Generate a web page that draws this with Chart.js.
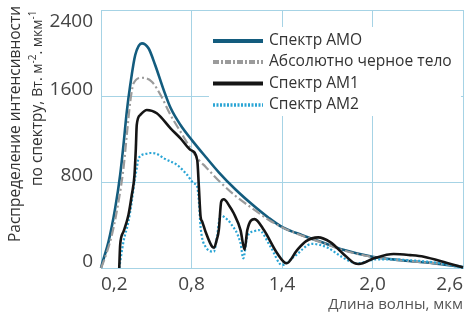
<!DOCTYPE html>
<html>
<head>
<meta charset="utf-8">
<script src="https://cdn.jsdelivr.net/npm/chart.js@4.4.1/dist/chart.umd.min.js"></script>
<style>
  html, body { margin: 0; padding: 0; background: #fff; }
</style>
</head>
<body>
<canvas id="chart" width="474" height="321"></canvas>
<script>
// Длины волн (мкм) и значения (Вт·м-2·мкм-1)
const amoWave = [0.2, 0.205, 0.25, 0.294, 0.327, 0.349, 0.371, 0.394, 0.427, 0.471, 0.515, 0.559, 0.617, 0.661, 0.727, 0.805, 0.893, 0.981, 1.092, 1.203, 1.313, 1.402, 1.534, 1.689, 1.8, 2.0, 2.2, 2.4, 2.6];
const amoValue = [0, 28, 245, 555, 865, 1144, 1454, 1702, 1981, 2090, 2044, 1888, 1650, 1490, 1330, 1185, 1035, 890, 730, 590, 465, 380, 305, 228, 172, 105, 70, 45, 10];

const bbWave = [0.2, 0.217, 0.272, 0.316, 0.349, 0.371, 0.394, 0.416, 0.471, 0.537, 0.595, 0.661, 0.727, 0.794, 0.849, 0.893, 0.981, 1.092, 1.203, 1.313, 1.402, 1.534, 1.689, 1.8, 2.0, 2.2, 2.4, 2.6];
const bbValue = [0, 59, 307, 617, 927, 1237, 1547, 1718, 1770, 1733, 1609, 1423, 1268, 1113, 1005, 942, 812, 670, 555, 447, 378, 300, 225, 168, 103, 70, 45, 15];

const am1Wave = [0.321, 0.327, 0.349, 0.382, 0.404, 0.422, 0.431, 0.437, 0.46, 0.504, 0.57, 0.661, 0.727, 0.794, 0.838, 0.849, 0.86, 0.871, 0.893, 0.937, 0.95, 0.965, 0.981, 0.997, 1.014, 1.05, 1.08, 1.125, 1.152, 1.17, 1.218, 1.28, 1.368, 1.43, 1.5, 1.56, 1.64, 1.72, 1.8, 1.88, 1.91, 2.01, 2.14, 2.25, 2.34, 2.5, 2.6];
const am1Value = [0, 214, 338, 493, 679, 865, 1113, 1330, 1423, 1470, 1439, 1299, 1206, 1098, 1005, 750, 480, 431, 338, 198, 190, 250, 353, 617, 639, 580, 509, 353, 170, 353, 455, 353, 137, 44, 167, 250, 285, 240, 140, 45, 37, 90, 130, 120, 105, 44, 5];

const am2Wave = [0.321, 0.349, 0.382, 0.404, 0.422, 0.437, 0.449, 0.493, 0.53, 0.57, 0.617, 0.705, 0.772, 0.815, 0.838, 0.85, 0.86, 0.893, 0.948, 0.97, 0.992, 1.02, 1.059, 1.125, 1.143, 1.17, 1.22, 1.246, 1.324, 1.40, 1.48, 1.6, 1.7, 1.8, 1.855, 1.899, 2.03, 2.23, 2.45, 2.6];
const am2Value = [0, 245, 431, 617, 803, 927, 1020, 1060, 1070, 1062, 1020, 958, 865, 788, 756, 600, 384, 198, 152, 300, 493, 470, 416, 230, 90, 291, 345, 353, 198, 28, 105, 225, 190, 100, 59, 44, 81, 74, 44, 0];

const seriesLabels = ['Спектр АМО', 'Абсолютно черное тело', 'Спектр АМ1', 'Спектр АМ2'];
const xTicks = [0.2, 0.8, 1.4, 2.0, 2.6];
const yTicks = [0, 800, 1600, 2400];

const FONT = '"Open Sans"';
const gridColor = '#a6d3e5';

const toPoints = (xs, ys) => xs.map((x, i) => ({ x: x, y: ys[i] }));

// Подпись оси Y в две строки, с верхними индексами
const yTitlePlugin = {
  id: 'yTitle',
  afterDraw(chart) {
    const ctx = chart.ctx;
    ctx.save();
    ctx.fillStyle = '#333';
    ctx.textBaseline = 'middle';
    ctx.textAlign = 'left';

    // строка 1
    ctx.save();
    ctx.translate(16, 242);
    ctx.rotate(-Math.PI / 2);
    ctx.font = '15.5px ' + FONT;
    ctx.fillText('Распределение интенсивности', 0, 0);
    ctx.restore();

    // строка 2
    const parts = [
      { t: 'по спектру, ', size: 15.5, dy: 0 },
      { t: 'Вт. м', size: 14, dy: 0 },
      { t: '-2', size: 10, dy: -5 },
      { t: '. мкм', size: 14, dy: 0 },
      { t: '-1', size: 10, dy: -5 }
    ];
    ctx.save();
    ctx.translate(38, 186);
    ctx.rotate(-Math.PI / 2);
    let x = 0;
    parts.forEach(p => {
      ctx.font = p.size + 'px ' + FONT;
      ctx.fillText(p.t, x, p.dy);
      x += ctx.measureText(p.t).width;
    });
    ctx.restore();
    ctx.restore();
  }
};

// Подписи делений оси Y (над линиями сетки)
const yLabelsPlugin = {
  id: 'yLabels',
  afterDraw(chart) {
    const { ctx, scales } = chart;
    ctx.save();
    ctx.font = '19px ' + FONT;
    ctx.fillStyle = '#444';
    ctx.textAlign = 'right';
    ctx.textBaseline = 'alphabetic';
    yTicks.forEach(v => {
      const py = scales.y.getPixelForValue(v);
      const by = py - 16 < 0 ? py + 17 : py - 1;
      ctx.fillText(String(v), 93, by);
    });
    ctx.restore();
  }
};

// Легенда в белой рамке внутри области графика
const legendPlugin = {
  id: 'boxLegend',
  afterDatasetsDraw(chart) {
    const ctx = chart.ctx;
    const rows = [41, 62, 83.5, 105];
    ctx.save();
    ctx.fillStyle = '#fff';
    ctx.fillRect(209, 27, 252, 89);
    chart.data.datasets.forEach((ds, i) => {
      ctx.beginPath();
      ctx.strokeStyle = ds.borderColor;
      ctx.lineWidth = ds.legendWidth;
      ctx.setLineDash(ds.legendDash || []);
      ctx.moveTo(213, rows[i]);
      ctx.lineTo(263, rows[i]);
      ctx.stroke();
      ctx.setLineDash([]);
      ctx.fillStyle = '#333';
      ctx.font = '15.6px ' + FONT;
      ctx.textBaseline = 'middle';
      ctx.textAlign = 'left';
      ctx.fillText(ds.label, 269, rows[i]);
    });
    ctx.restore();
  }
};

new Chart(document.getElementById('chart'), {
  type: 'line',
  data: {
    datasets: [
      {
        label: seriesLabels[0],
        data: toPoints(amoWave, amoValue),
        borderColor: '#135c7e',
        borderWidth: 2.6,
        order: 4,
        legendWidth: 4
      },
      {
        label: seriesLabels[1],
        data: toPoints(bbWave, bbValue),
        borderColor: '#9b9b9b',
        borderWidth: 2.2,
        borderDash: [9, 3, 2, 3],
        order: 3,
        legendWidth: 4,
        legendDash: [6, 2, 2, 2]
      },
      {
        label: seriesLabels[2],
        data: toPoints(am1Wave, am1Value),
        borderColor: '#151515',
        borderWidth: 2.6,
        order: 1,
        legendWidth: 4
      },
      {
        label: seriesLabels[3],
        data: toPoints(am2Wave, am2Value),
        borderColor: '#2aa5d5',
        borderWidth: 2.2,
        borderDash: [2, 2],
        order: 2,
        legendWidth: 3.5,
        legendDash: [2, 1.5]
      }
    ]
  },
  options: {
    responsive: false,
    animation: false,
    layout: { padding: { top: 10, right: 11, left: 0, bottom: 0 } },
    plugins: {
      legend: { display: false },
      tooltip: { enabled: false }
    },
    elements: {
      point: { radius: 0 },
      line: { cubicInterpolationMode: 'monotone', fill: false }
    },
    datasets: { line: { clip: false } },
    scales: {
      x: {
        type: 'linear',
        min: 0.2,
        max: 2.6,
        afterBuildTicks: s => { s.ticks = xTicks.map(v => ({ value: v })); },
        afterFit: s => { s.height = 53; },
        grid: { color: gridColor, lineWidth: 1, drawTicks: false },
        border: { color: gridColor },
        ticks: {
          align: 'inner',
          padding: 5,
          color: '#444',
          maxRotation: 0,
          autoSkip: false,
          font: { family: FONT, size: 19 },
          callback: v => v.toFixed(1).replace('.', ',')
        },
        title: {
          display: true,
          text: 'Длина волны, мкм',
          align: 'end',
          color: '#555',
          font: { family: FONT, size: 15 },
          padding: { top: 0, bottom: 7 }
        }
      },
      y: {
        min: 0,
        max: 2400,
        afterBuildTicks: s => { s.ticks = yTicks.map(v => ({ value: v })); },
        afterFit: s => { s.width = 101; },
        grid: { color: gridColor, lineWidth: 1, drawTicks: false },
        border: { color: gridColor },
        ticks: { display: false }
      }
    }
  },
  plugins: [yTitlePlugin, yLabelsPlugin, legendPlugin]
});
</script>
</body>
</html>
